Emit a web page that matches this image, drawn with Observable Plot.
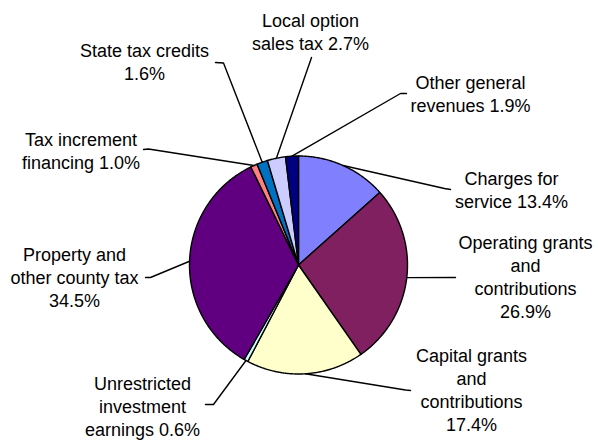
<!DOCTYPE html>
<html><head><meta charset="utf-8">
<script src="https://cdn.jsdelivr.net/npm/d3@7"></script>
<script src="https://cdn.jsdelivr.net/npm/@observablehq/plot@0.6"></script>
<style>html,body{margin:0;padding:0;background:#fff}</style>
</head><body><div id="chart"></div>
<script>
// ---- data ----
const categories = [
  "Charges for service",
  "Operating grants and contributions",
  "Capital grants and contributions",
  "Unrestricted investment earnings",
  "Property and other county tax",
  "Tax increment financing",
  "State tax credits",
  "Local option sales tax",
  "Other general revenues"
];
const values = [13.4, 26.9, 17.4, 0.6, 34.5, 1.0, 1.6, 2.7, 1.9];
const labelTemplates = [
  "Charges for\nservice {p}",
  "Operating grants\nand\ncontributions\n{p}",
  "Capital grants\nand\ncontributions\n{p}",
  "Unrestricted\ninvestment\nearnings {p}",
  "Property and\nother county tax\n{p}",
  "Tax increment\nfinancing {p}",
  "State tax credits\n{p}",
  "Local option\nsales tax {p}",
  "Other general\nrevenues {p}"
];

// ---- styles / layout ----
const colors = ["#8080FF", "#802060", "#FFFFCC", "#CCFFFF", "#600080", "#FF8080", "#0070C0", "#CCCCFF", "#000080"];
const W = 598, H = 440, cx = 298, cy = 264.5, R = 109;
const labelLayout = [
  {x: 511, y: 207.5, elbow: [444, 188], end: [450, 189]},
  {x: 525, y: 317,   elbow: null,       end: [455, 277]},
  {x: 471, y: 430,   elbow: [405, 389.5], end: [410, 390]},
  {x: 142, y: 435,   elbow: [213, 404], end: [205, 404]},
  {x: 74,  y: 306,   elbow: [150, 277], end: [145, 277]},
  {x: 80.5, y: 168,  elbow: [148, 148.5], end: [143, 149]},
  {x: 144, y: 79.5,  elbow: [223, 62.5], end: [215, 62]},
  {x: 310, y: 49.5,  elbow: [310, 60],  end: [311, 57]},
  {x: 470, y: 111,   elbow: [400, 93],  end: [406, 93]}
];

// ---- geometry from data ----
const arcs = d3.pie().sort(null).value(d => d)(values);
const pt = (a, r) => [cx + r * Math.sin(a), cy - r * Math.cos(a)];
const slices = arcs.map(a => {
  const pts = [[cx, cy]];
  const n = Math.max(2, Math.ceil((a.endAngle - a.startAngle) / (Math.PI / 360)));
  for (let k = 0; k <= n; ++k) pts.push(pt(a.startAngle + (a.endAngle - a.startAngle) * k / n, R));
  pts.push([cx, cy]);
  return pts;
});
const leaders = arcs.map((a, i) => {
  const L = labelLayout[i];
  const pts = [pt((a.startAngle + a.endAngle) / 2, R)];
  if (L.elbow) pts.push(L.elbow);
  pts.push(L.end);
  return pts;
});
const labels = values.map((v, i) => ({
  x: labelLayout[i].x,
  y: labelLayout[i].y,
  text: labelTemplates[i].replace("{p}", v.toFixed(1) + "%")
}));

const chart = Plot.plot({
  width: W, height: H, margin: 0,
  x: {domain: [0, W], range: [0, W], axis: null},
  y: {domain: [0, H], range: [0, H], axis: null},
  style: {background: "#fff", fontFamily: "'Liberation Sans', Arial, sans-serif"},
  marks: [
    ...slices.map((s, i) => Plot.line(s, {x: d => d[0], y: d => d[1], fill: colors[i], stroke: "#000", strokeWidth: 1.4, strokeLinejoin: "round"})),
    ...leaders.map(l => Plot.line(l, {x: d => d[0], y: d => d[1], stroke: "#000", strokeWidth: 1.4})),
    Plot.text(labels, {x: "x", y: "y", text: "text", textAnchor: "middle", lineAnchor: "bottom",
      fontSize: 18, lineHeight: 22.7 / 18, fill: "#000", fontFamily: "'Liberation Sans', Arial, sans-serif"})
  ]
});
document.getElementById("chart").appendChild(chart);
</script>
</body></html>
